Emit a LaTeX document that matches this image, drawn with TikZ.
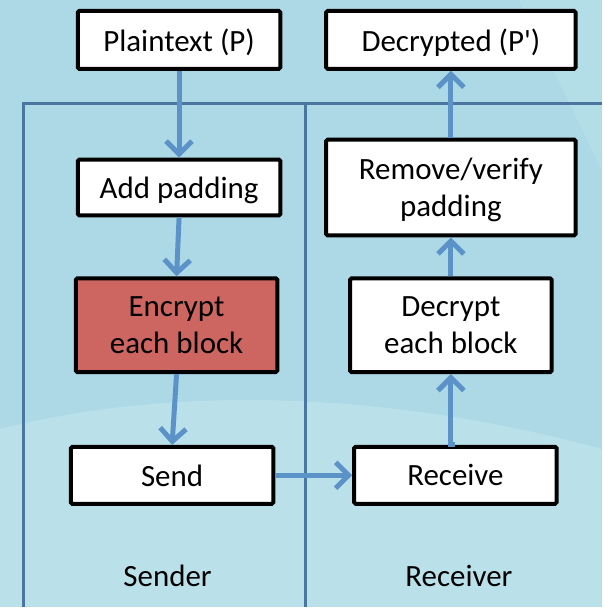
\documentclass[tikz,border=0pt]{standalone}
\usepackage{fontspec}
\setmainfont{Carlito}
\usetikzlibrary{arrows.meta}
\definecolor{bgblue}{RGB}{172,217,229}
\definecolor{bglight}{RGB}{186,225,234}
\definecolor{lanecol}{RGB}{74,118,160}
\definecolor{flowcol}{RGB}{91,147,201}
\definecolor{encred}{RGB}{205,101,96}
\begin{document}
\begin{tikzpicture}[x=1pt,y=-1pt,
  stepbox/.style={draw=black,line width=4pt,fill=white,rounded corners=1.5pt,inner sep=0pt,align=center,text depth=0pt,font=\fontsize{31}{37}\selectfont},
  lane/.style={draw=lanecol,line width=3pt},
  flow/.style={draw=flowcol,line width=5pt,-{Straight Barb[length=13pt,width=26pt,line width=5pt]}}]
% background
\fill[bgblue] (0,0) rectangle (603,608);
\fill[bglight] (0,608) -- (0,430) .. controls (200,380) and (420,400) .. (603,450) -- (603,608) -- cycle;
\fill[bglight,opacity=0.5] (520,0) -- (603,0) -- (603,170) -- cycle;
% lanes
\draw[lane] (24,608) -- (24,104) -- (603,104);
\draw[lane] (306,104) -- (306,608);
% steps
\node[stepbox,minimum width=203pt,minimum height=58pt] (plain) at (179.5,40) {Plaintext (P)};
\node[stepbox,minimum width=250pt,minimum height=58pt] (decr) at (452,40) {Decrypted (P\textquotesingle)};
\node[stepbox,minimum width=203pt,minimum height=56pt] (pad) at (179.5,188) {Add padding};
\node[stepbox,minimum width=250pt,minimum height=96pt] (unpad) at (452,188) {Remove/verify\\padding};
\node[stepbox,fill=encred,minimum width=202pt,minimum height=94pt] (enc) at (177,326) {Encrypt\\each block};
\node[stepbox,minimum width=202pt,minimum height=94pt] (dec) at (452,326) {Decrypt\\each block};
\node[stepbox,minimum width=203pt,minimum height=57pt] (send) at (172.5,476.5) {Send};
\node[stepbox,minimum width=203pt,minimum height=57pt] (recv) at (456.5,476.5) {Receive};
% lane labels
\node[font=\fontsize{31}{37}\selectfont] (sender) at (168,577) {Sender};
\node[font=\fontsize{31}{37}\selectfont] (receiver) at (460,577) {Receiver};
% flow
\draw[flow] (plain.south) -- (pad.north);
\draw[flow] (pad.south) -- (enc.north);
\draw[flow] (enc.south) -- (send.north);
\draw[flow] (send.east) -- (recv.west);
\draw[flow] (recv.north) -- (dec.north|-recv.north) -- (dec.south);
\draw[flow] (dec.north) -- (unpad.south);
\draw[flow] (unpad.north) -- (decr.south);
\end{tikzpicture}
\end{document}
